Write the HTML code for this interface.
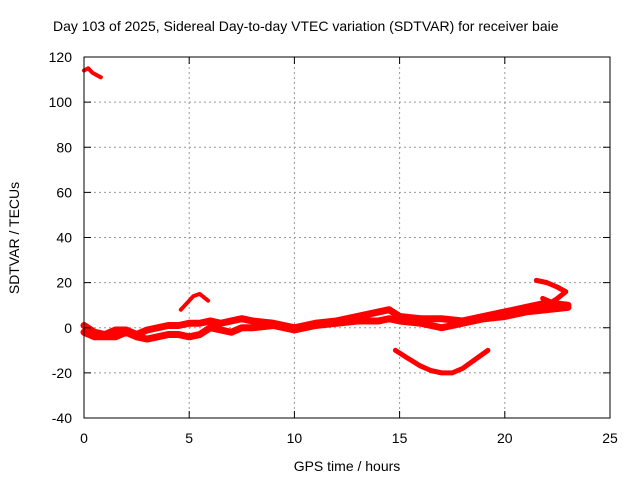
<!DOCTYPE html>
<html><head><meta charset="utf-8"><style>
body{margin:0;background:#fff;}
svg text{font-family:"Liberation Sans",sans-serif;font-size:14px;fill:#000;}
</style></head><body>
<svg id="chart" width="640" height="480" xmlns="http://www.w3.org/2000/svg">
<rect width="640" height="480" fill="#fff"/>
<text x="53" y="31">Day 103 of 2025, Sidereal Day-to-day VTEC variation (SDTVAR) for receiver baie</text>
<g id="grid"></g>
<g id="series"></g>
<rect x="84" y="57" width="526" height="361" fill="none" stroke="#000" stroke-width="1"/>
<g id="ticks"></g>
<text x="347" y="471" text-anchor="middle">GPS time / hours</text>
<text transform="translate(19,238) rotate(-90)" text-anchor="middle">SDTVAR / TECUs</text>
</svg>
<script>
const xTicks=[0,5,10,15,20,25];
const yTicks=[-40,-20,0,20,40,60,80,100,120];
const earlyHours=[0,0.2,0.4,0.6,0.8];
const earlyValues=[114,115,113,112,111];
const bumpHours=[4.6,4.9,5.2,5.5,5.9];
const bumpValues=[8,11,14,15,12];
const arcHours=[14.8,15.3,16,16.5,17,17.5,18,18.6,19.2];
const arcValues=[-10,-13,-17,-19,-20,-20,-18,-14,-10];
const endHours=[21.5,22,22.5,22.9,22.5,22,22.8,22.3,21.8];
const endValues=[21,20,18,16,13,10,9,11,13];
const bandHours=[0,0.5,1,1.5,2,2.5,3,3.5,4,4.5,5,5.5,6,6.5,7,7.5,8,9,10,11,12,13,14,14.5,15,16,17,17.5,18,19,20,21,22,23];
const upperValues=[1,-2,-3,-1,-1,-3,-1,0,1,1,2,2,3,2,3,4,3,2,0,2,3,5,7,8,5,4,4,3.5,3,5,7,9,11,10];
const lowerValues=[-2,-4,-4,-4,-2,-4,-5,-4,-3,-3,-4,-3,0,-1,-2,0,0,1,-1,1,2,3,3,4,3,2,0,1,2,4,5,7,8,9];
const X=h=>84+h*526/25, Y=v=>57+(120-v)*361/160;
const NS="http://www.w3.org/2000/svg";
const grid=document.getElementById('grid'),ticks=document.getElementById('ticks'),ser=document.getElementById('series');
function mk(tag,at,par){const e=document.createElementNS(NS,tag);for(const k in at)e.setAttribute(k,at[k]);par.appendChild(e);return e;}
xTicks.forEach(t=>{const x=X(t);
 if(t>0&&t<25){const l=mk('line',{x1:x,x2:x,y1:57,y2:418,stroke:'#999','stroke-dasharray':'2,3'},grid);
 
 }
 mk('line',{x1:x,x2:x,y1:418,y2:411,stroke:'#000'},ticks);mk('line',{x1:x,x2:x,y1:57,y2:64,stroke:'#000'},ticks);
 const tx=mk('text',{x:x,y:443,'text-anchor':'middle'},ticks);tx.textContent=t;
 
 });
yTicks.forEach(t=>{const y=Y(t);
 if(t>-40&&t<120){const l=mk('line',{x1:84,x2:610,y1:y,y2:y,stroke:'#999','stroke-dasharray':'2,3'},grid);
 
 }
 mk('line',{x1:84,x2:91,y1:y,y2:y,stroke:'#000'},ticks);mk('line',{x1:603,x2:610,y1:y,y2:y,stroke:'#000'},ticks);
 const tx=mk('text',{x:72,y:y+5,'text-anchor':'end'},ticks);tx.textContent=t;
 
 });
function line(hs,vs,name,w){const p=mk('polyline',{points:hs.map((h,i)=>X(h)+','+Y(vs[i])).join(' '),fill:'none',stroke:'#f00','stroke-width':w,'stroke-linejoin':'round','stroke-linecap':'round'},ser);
 
 }
line(earlyHours,earlyValues,'early-segment',4);
line(bumpHours,bumpValues,'bump-segment',4);
line(arcHours,arcValues,'arc-segment',5);
line(endHours,endValues,'end-segment',5);
line(bandHours,upperValues,'upper-band-trace',7);
line(bandHours,lowerValues,'lower-band-trace',7);
</script>
</body></html>
